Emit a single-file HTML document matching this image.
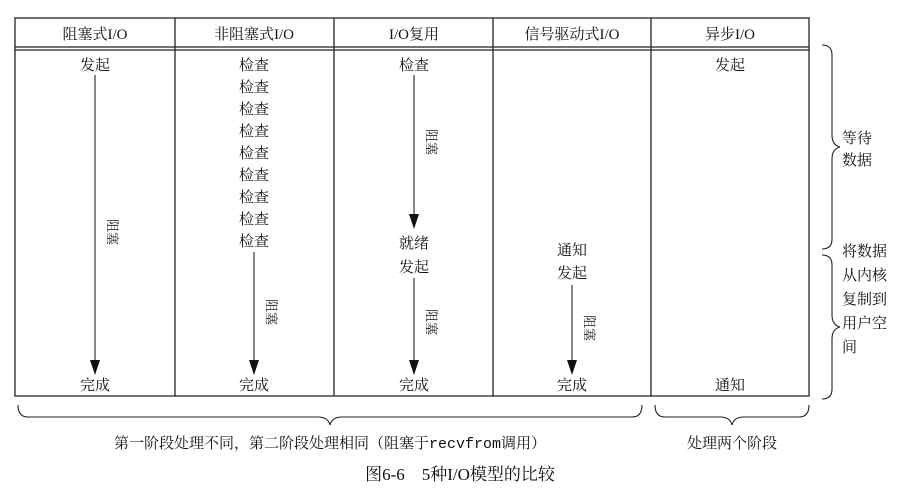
<!DOCTYPE html>
<html><head><meta charset="utf-8"><style>
body{margin:0;background:#fff}
svg text{font-family:"Liberation Serif","Noto Serif CJK SC","Noto Sans CJK SC",serif;fill:#111}
</style></head><body>
<svg width="920" height="496" viewBox="0 0 920 496" xmlns="http://www.w3.org/2000/svg">
<g stroke="#222" fill="none" stroke-width="1.3">
<rect x="15" y="18" width="794" height="378"/>
<line x1="15" y1="47" x2="809" y2="47"/><line x1="15" y1="50" x2="809" y2="50"/>
<line x1="175" y1="18" x2="175" y2="396"/>
<line x1="334" y1="18" x2="334" y2="396"/>
<line x1="493" y1="18" x2="493" y2="396"/>
<line x1="651" y1="18" x2="651" y2="396"/>
</g>
<g stroke="#222" stroke-width="1.1" fill="none">
<line x1="95" y1="75" x2="95" y2="362"/>
<line x1="254" y1="252" x2="254" y2="362"/>
<line x1="414" y1="75" x2="414" y2="216"/>
<line x1="414" y1="278" x2="414" y2="362"/>
<line x1="572" y1="285" x2="572" y2="362"/>
<path d="M18,405 q0,12 10,12 h290 q10,0 12,8 q2,-8 12,-8 h290 q10,0 10,-12"/>
<path d="M655,405 q0,12 10,12 h55 q10,0 12,8 q2,-8 12,-8 h55 q10,0 10,-12"/>
<path d="M822,45 q10,0 10,10 v80 q0,10 8,12 q-8,2 -8,12 v80 q0,10 -10,10"/>
<path d="M822,255 q10,0 10,10 v50 q0,10 8,12 q-8,2 -8,12 v50 q0,10 -10,10"/>
</g>
<g fill="#111">
<path d="M90,360 h10 l-5,15 z"/>
<path d="M249,360 h10 l-5,15 z"/>
<path d="M409,214 h10 l-5,15 z"/>
<path d="M409,360 h10 l-5,15 z"/>
<path d="M567,360 h10 l-5,15 z"/>
</g>
<g font-size="15" text-anchor="middle">
<text x="95" y="39">阻塞式I/O</text>
<text x="254" y="39">非阻塞式I/O</text>
<text x="414" y="39">I/O复用</text>
<text x="572" y="39">信号驱动式I/O</text>
<text x="730" y="39">异步I/O</text>
<text x="95" y="70">发起</text>
<text x="254" y="70">检查</text><text x="254" y="92">检查</text><text x="254" y="114">检查</text><text x="254" y="136">检查</text><text x="254" y="158">检查</text><text x="254" y="180">检查</text><text x="254" y="202">检查</text><text x="254" y="224">检查</text><text x="254" y="246">检查</text>
<text x="414" y="70">检查</text>
<text x="414" y="248">就绪</text><text x="414" y="272">发起</text>
<text x="572" y="255">通知</text><text x="572" y="278">发起</text>
<text x="730" y="70">发起</text>
<text x="95" y="390">完成</text><text x="254" y="390">完成</text><text x="414" y="390">完成</text><text x="572" y="390">完成</text><text x="730" y="390">通知</text>
<text x="330" y="448">第一阶段处理不同，第二阶段处理相同（阻塞于<tspan font-family="Liberation Mono,monospace">recvfrom</tspan>调用）</text>
<text x="732" y="448">处理两个阶段</text>
<text x="460" y="480" font-size="17">图6-6　5种I/O模型的比较</text>
</g>
<g font-size="13" text-anchor="middle">
<text transform="translate(108,232) rotate(90)">阻塞</text>
<text transform="translate(267,312) rotate(90)">阻塞</text>
<text transform="translate(427,142) rotate(90)">阻塞</text>
<text transform="translate(427,322) rotate(90)">阻塞</text>
<text transform="translate(585,328) rotate(90)">阻塞</text>
</g>
<g font-size="15">
<text x="842" y="143">等待</text><text x="842" y="165">数据</text>
<text x="842" y="256">将数据</text><text x="842" y="280">从内核</text><text x="842" y="304">复制到</text><text x="842" y="328">用户空</text><text x="842" y="352">间</text>
</g>
</svg>
</body></html>
